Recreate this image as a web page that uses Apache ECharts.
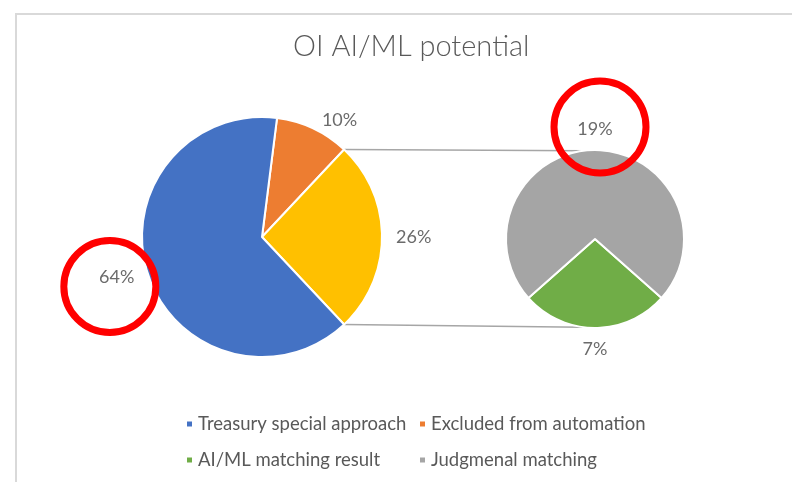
<!DOCTYPE html>
<html>
<head>
<meta charset="utf-8">
<script src="https://cdn.jsdelivr.net/npm/echarts@6/dist/echarts.min.js"></script>
<style>
  html, body { margin: 0; padding: 0; background: #fff; }
  #main { width: 792px; height: 482px; }
</style>
</head>
<body>
<div id="main"></div>
<script>
// main pie, the middle slice ("Other") is split up in the small pie
var mainNames = ['Excluded from automation', 'Other', 'Treasury special approach'];
var mainValues = [10, 26, 64];
var mainColors = ['#ED7D31', '#FFC000', '#4472C4'];

var subNames = ['AI/ML matching result', 'Judgmenal matching'];
var subValues = [7, 19];
var subColors = ['#70AD47', '#A5A5A5'];

var legendCol1 = ['Treasury special approach', 'AI/ML matching result'];
var legendCol2 = ['Excluded from automation', 'Judgmenal matching'];

var FONT = 'Lato, "Open Sans", sans-serif';
var LABEL_COLOR = '#6b6b6b';

function sum(arr) {
    var s = 0;
    for (var i = 0; i < arr.length; i++) s += arr[i];
    return s;
}

function buildData(names, values, colors) {
    var out = [];
    for (var i = 0; i < names.length; i++) {
        out.push({ name: names[i], value: values[i], itemStyle: { color: colors[i] } });
    }
    return out;
}

// "Other" slice centered at 3 o'clock, green slice centered at 6 o'clock
var mainTotal = sum(mainValues);
var mainStart = (mainValues[0] + mainValues[1] / 2) / mainTotal * 360;
var subTotal = sum(subValues);
var subStart = 270 + subValues[0] / subTotal * 180;

var myChart = echarts.init(document.getElementById('main'));

var legendText = { color: '#595959', fontSize: 18.5, fontFamily: FONT, lineHeight: 22 };

var option = {
    backgroundColor: '#fff',
    animation: false,
    title: {
        text: 'OI AI/ML potential',
        left: 293,
        top: 32,
        padding: 0,
        textStyle: {
            color: '#595959',
            fontSize: 29,
            fontWeight: 300,
            fontFamily: FONT
        }
    },
    legend: [
        {
            data: legendCol1,
            orient: 'vertical',
            left: 185,
            top: 413,
            padding: 0,
            icon: 'rect',
            itemWidth: 7,
            itemHeight: 7,
            itemGap: 14,
            selectedMode: false,
            textStyle: legendText
        },
        {
            data: legendCol2,
            orient: 'vertical',
            left: 418,
            top: 413,
            padding: 0,
            icon: 'rect',
            itemWidth: 7,
            itemHeight: 7,
            itemGap: 14,
            selectedMode: false,
            textStyle: legendText
        }
    ],
    series: [
        {
            name: 'main',
            type: 'pie',
            center: [262, 237],
            radius: 120,
            startAngle: mainStart,
            clockwise: true,
            avoidLabelOverlap: false,
            itemStyle: { borderColor: '#fff', borderWidth: 2 },
            label: {
                show: true,
                position: 'outside',
                formatter: '{c}%',
                color: LABEL_COLOR,
                fontSize: 18,
                fontFamily: FONT,
                distanceToLabelLine: 5
            },
            labelLine: { show: false, length: 9, length2: 0 },
            emphasis: { disabled: true },
            data: buildData(mainNames, mainValues, mainColors)
        },
        {
            name: 'sub',
            type: 'pie',
            center: [595, 239],
            radius: 89,
            startAngle: subStart,
            clockwise: true,
            avoidLabelOverlap: false,
            itemStyle: { borderColor: '#fff', borderWidth: 2 },
            label: {
                show: true,
                position: 'outside',
                formatter: '{c}%',
                color: LABEL_COLOR,
                fontSize: 18,
                fontFamily: FONT,
                distanceToLabelLine: 0
            },
            labelLine: { show: false, length: 21, length2: 0 },
            labelLayout: function () {
                return { align: 'center' };
            },
            emphasis: { disabled: true },
            data: buildData(subNames, subValues, subColors)
        }
    ]
};

myChart.setOption(option);

// connector lines + the red marks, placed from the pie layouts
var model = myChart.getModel();
var mainData = model.getSeriesByIndex(0).getData();
var subData = model.getSeriesByIndex(1).getData();
var other = mainData.getItemLayout(1);
var blue = mainData.getItemLayout(2);
var gray = subData.getItemLayout(1);

function pt(lay, ang, dist) {
    return [lay.cx + dist * Math.cos(ang), lay.cy + dist * Math.sin(ang)];
}

var tilt = 8 * Math.PI / 180;
var a1 = pt(other, other.startAngle, other.r);
var a2 = pt(other, other.endAngle, other.r);
var b1 = pt(gray, -Math.PI / 2 - tilt, gray.r);
var b2 = pt(gray, Math.PI / 2 + tilt, gray.r);

var blueMid = (blue.startAngle + blue.endAngle) / 2;
var grayMid = (gray.startAngle + gray.endAngle) / 2;
var c1 = pt(blue, blueMid, blue.r + 40);
var c2 = pt(gray, grayMid, gray.r + 23);

myChart.setOption({
    graphic: [
        {
            type: 'polyline',
            z: -1,
            silent: true,
            shape: { points: [[16, 490], [16, 14], [800, 14]] },
            style: { fill: 'none', stroke: '#d9d9d9', lineWidth: 2 }
        },
        {
            type: 'line',
            z: 1,
            silent: true,
            shape: { x1: a1[0], y1: a1[1], x2: b1[0], y2: b1[1] },
            style: { stroke: '#a6a6a6', lineWidth: 1.5 }
        },
        {
            type: 'line',
            z: 1,
            silent: true,
            shape: { x1: a2[0], y1: a2[1], x2: b2[0], y2: b2[1] },
            style: { stroke: '#a6a6a6', lineWidth: 1.5 }
        },
        {
            type: 'circle',
            z: 100,
            silent: true,
            shape: { cx: c1[0], cy: c1[1], r: 46 },
            style: { fill: 'none', stroke: '#ff0000', lineWidth: 7 }
        },
        {
            type: 'circle',
            z: 100,
            silent: true,
            shape: { cx: c2[0] + 5, cy: c2[1], r: 46 },
            style: { fill: 'none', stroke: '#ff0000', lineWidth: 7 }
        }
    ]
});
</script>
</body>
</html>
